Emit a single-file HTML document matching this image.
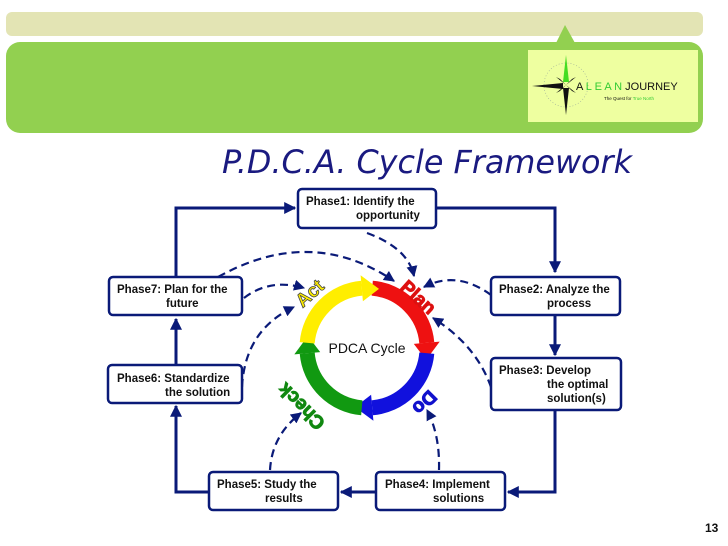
<!DOCTYPE html>
<html><head><meta charset="utf-8"><style>
html,body{margin:0;padding:0;background:#fff;}
svg{display:block;}
</style></head><body>
<svg width="728" height="546" viewBox="0 0 728 546" xmlns="http://www.w3.org/2000/svg" font-family="Liberation Sans, sans-serif">
<defs>
<marker id="ah" viewBox="0 0 10 10" refX="9" refY="5" markerWidth="4" markerHeight="4" orient="auto"><path d="M0,0 L10,5 L0,10 z" fill="#0a1a78"/></marker>
<marker id="ad" viewBox="0 0 10 10" refX="9" refY="5" markerWidth="5" markerHeight="5" orient="auto"><path d="M0,0 L10,5 L0,10 z" fill="#0a1a78"/></marker>
</defs>
<rect x="6" y="12" width="697" height="24" rx="6" fill="#e3e4b4"/>
<rect x="6" y="42" width="697" height="91" rx="14" fill="#92d050"/>
<path d="M556,43 L565,25 L575,43 z" fill="#92d050"/>
<rect x="528" y="50" width="170" height="72" fill="#eeffa0"/>
<g>
<circle cx="566" cy="85" r="22" fill="none" stroke="#9a9" stroke-width="0.6" stroke-dasharray="1,2"/>
<path d="M566,55 L569,82 L563,82 z" fill="#44dd22"/>
<path d="M566,115 L569,88 L563,88 z" fill="#111"/>
<path d="M532,86 L563,83 L563,89 z" fill="#111"/>
<path d="M560,79 L566,85 L556,77 z" fill="#111"/>
<path d="M572,79 L566,85 L576,77 z" fill="#111"/>
<path d="M560,91 L566,85 L556,93 z" fill="#111"/>
<path d="M572,91 L566,85 L576,93 z" fill="#111"/>
<text x="576" y="90" font-size="11" fill="#111">A <tspan fill="#33cc33">L E A N</tspan> JOURNEY</text>
<text x="604" y="100" font-size="4.5" fill="#111">The Quest for <tspan fill="#33cc33">True North</tspan></text>
</g>
<text x="222" y="173" font-size="32" font-style="italic" fill="#1a1a80" font-family="DejaVu Sans, sans-serif" textLength="410" lengthAdjust="spacingAndGlyphs">P.D.C.A. Cycle Framework</text>
<g fill="none" stroke="#0a1a78" stroke-width="3">
<path d="M436,208 L555,208 L555,272" marker-end="url(#ah)"/>
<path d="M555,315 L555,355" marker-end="url(#ah)"/>
<path d="M555,410 L555,492 L508,492" marker-end="url(#ah)"/>
<path d="M376,492 L341,492" marker-end="url(#ah)"/>
<path d="M209,492 L176,492 L176,406" marker-end="url(#ah)"/>
<path d="M176,365 L176,319" marker-end="url(#ah)"/>
<path d="M176,277 L176,208 L295,208" marker-end="url(#ah)"/>
</g>
<g fill="none" stroke="#0a1a78" stroke-width="2.2" stroke-dasharray="8,5">
<path d="M367,233 Q408,248 414,276" marker-end="url(#ad)"/>
<path d="M218,277 Q311,225 394,281" marker-end="url(#ad)"/>
<path d="M244,298 Q270,278 304,288" marker-end="url(#ad)"/>
<path d="M242,387 Q245,330 294,307" marker-end="url(#ad)"/>
<path d="M270,470 Q272,435 301,413" marker-end="url(#ad)"/>
<path d="M439,470 Q440,435 427,410" marker-end="url(#ad)"/>
<path d="M491,387 Q476,345 433,318" marker-end="url(#ad)"/>
<path d="M491,295 Q457,270 424,287" marker-end="url(#ad)"/>
</g>
<g fill="#fff" stroke="#0a1a78" stroke-width="2.5">
<rect x="298" y="189" width="138" height="39" rx="4"/>
<rect x="491" y="277" width="129" height="38" rx="4"/>
<rect x="491" y="358" width="130" height="52" rx="4"/>
<rect x="376" y="472" width="129" height="38" rx="4"/>
<rect x="209" y="472" width="129" height="38" rx="4"/>
<rect x="108" y="365" width="134" height="38" rx="4"/>
<rect x="109" y="277" width="133" height="38" rx="4"/>
</g>
<g font-size="11.5" font-weight="bold" fill="#111">
<text x="306" y="205">Phase1: Identify the</text><text x="356" y="219">opportunity</text>
<text x="499" y="293">Phase2: Analyze the</text><text x="547" y="307">process</text>
<text x="499" y="374">Phase3: Develop</text><text x="547" y="388">the optimal</text><text x="547" y="402">solution(s)</text>
<text x="385" y="488">Phase4: Implement</text><text x="433" y="502">solutions</text>
<text x="217" y="488">Phase5: Study the</text><text x="265" y="502">results</text>
<text x="117" y="382">Phase6: Standardize</text><text x="165" y="396">the solution</text>
<text x="117" y="293">Phase7: Plan for the</text><text x="166" y="307">future</text>
</g>
<g fill="none" stroke-width="15">
<path d="M372.2,288.2 A60,60 0 0 1 426.8,342.8" stroke="#ee1111"/>
<path d="M413.8,343.9 L439.7,341.6 L426.1,360 z" fill="#ee1111" stroke="none"/>
<path d="M426.8,353.2 A60,60 0 0 1 372.2,407.8" stroke="#1111dd"/>
<path d="M371.1,394.8 L373.4,420.7 L355,407.1 z" fill="#1111dd" stroke="none"/>
<path d="M361.8,407.8 A60,60 0 0 1 307.2,353.2" stroke="#119911"/>
<path d="M320.2,352.1 L294.3,354.4 L307.9,336 z" fill="#119911" stroke="none"/>
<path d="M307.2,342.8 A60,60 0 0 1 361.8,288.2" stroke="#ffee00"/>
<path d="M362.9,301.2 L360.6,275.3 L379,288.9 z" fill="#ffee00" stroke="none"/>
</g>
<text x="367" y="353" font-size="14" text-anchor="middle" fill="#111">PDCA Cycle</text>
<g font-size="19" font-weight="bold" text-anchor="middle">
<text transform="translate(414,302) rotate(42)" fill="#dd1111" stroke="#dd1111" stroke-width="1">Plan</text>
<text transform="translate(420,398) rotate(135)" fill="#1111cc" stroke="#1111cc" stroke-width="1">Do</text>
<text transform="translate(306,402) rotate(-135)" fill="#118811" stroke="#118811" stroke-width="1">Check</text>
<text transform="translate(314,298) rotate(-42)" fill="#ffee00" stroke="#444" stroke-width="0.8">Act</text>
</g>
<text x="705" y="532" font-size="12" font-weight="bold" fill="#111">13</text>
</svg>
</body></html>
